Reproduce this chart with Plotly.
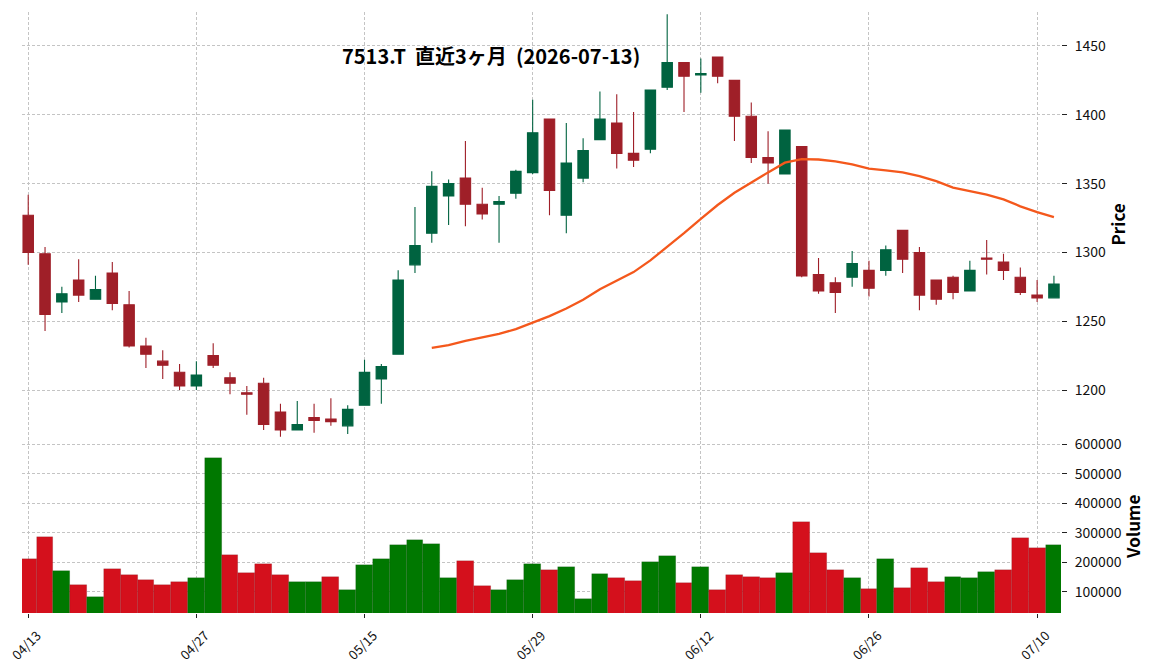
import pandas as pd
import plotly.graph_objects as go

# ---------------- data ----------------
dates = ["04/13", "04/14", "04/15", "04/16", "04/17",
         "04/20", "04/21", "04/22", "04/23", "04/24",
         "04/27", "04/28", "04/30", "05/01", "05/07", "05/08",
         "05/11", "05/12", "05/13", "05/14", "05/15",
         "05/18", "05/19", "05/20", "05/21", "05/22",
         "05/25", "05/26", "05/27", "05/28", "05/29",
         "06/01", "06/02", "06/03", "06/04", "06/05",
         "06/08", "06/09", "06/10", "06/11", "06/12",
         "06/15", "06/16", "06/17", "06/18", "06/19",
         "06/22", "06/23", "06/24", "06/25", "06/26",
         "06/29", "06/30", "07/01", "07/02", "07/03",
         "07/06", "07/07", "07/08", "07/09", "07/10",
         "07/13"]

opens = [1327, 1299, 1264, 1280, 1266, 1285, 1262, 1232, 1221, 1213,
         1203, 1225, 1209, 1198, 1205, 1184, 1171, 1180, 1179, 1174,
         1189, 1208, 1226, 1291, 1314, 1341, 1354, 1335, 1335, 1343,
         1358, 1397, 1327, 1354, 1382, 1394, 1372, 1375, 1420, 1438,
         1429, 1442, 1425, 1399, 1369, 1357, 1377, 1284, 1278, 1282,
         1287, 1287, 1316, 1300, 1280, 1282, 1272, 1296, 1293, 1282,
         1269, 1267]
highs = [1342, 1304, 1275, 1295, 1283, 1293, 1272, 1238, 1229, 1219,
         1221, 1234, 1213, 1203, 1209, 1190, 1192, 1190, 1194, 1189,
         1222, 1219, 1287, 1333, 1359, 1353, 1381, 1347, 1341, 1360,
         1411, 1397, 1394, 1383, 1417, 1415, 1402, 1418, 1473, 1438,
         1441, 1442, 1425, 1409, 1388, 1389, 1377, 1296, 1282, 1301,
         1294, 1305, 1316, 1304, 1280, 1283, 1294, 1309, 1299, 1289,
         1280, 1283]
lows = [1291, 1243, 1256, 1264, 1266, 1258, 1231, 1216, 1208, 1200,
        1200, 1216, 1197, 1182, 1171, 1166, 1171, 1169, 1174, 1168,
        1189, 1190, 1226, 1285, 1307, 1320, 1319, 1324, 1307, 1339,
        1357, 1327, 1314, 1351, 1382, 1361, 1362, 1372, 1418, 1402,
        1416, 1423, 1381, 1365, 1350, 1357, 1282, 1270, 1256, 1275,
        1268, 1283, 1285, 1258, 1262, 1266, 1272, 1284, 1280, 1269,
        1264, 1267]
closes = [1300, 1255, 1270, 1269, 1273, 1263, 1232, 1226, 1218, 1203,
          1211, 1218, 1205, 1197, 1175, 1171, 1175, 1178, 1177, 1186,
          1213, 1217, 1280, 1305, 1348, 1350, 1335, 1328, 1337, 1359,
          1387, 1345, 1365, 1374, 1397, 1372, 1367, 1418, 1438, 1428,
          1430, 1428, 1399, 1369, 1365, 1389, 1283, 1272, 1271, 1292,
          1274, 1302, 1295, 1269, 1266, 1271, 1287, 1295, 1287, 1271,
          1267, 1277]
volumes = [211000, 285500, 170100, 122600, 81900, 176900, 156600, 139600, 122600, 132800,
           146400, 553600, 224400, 163400, 193900, 156600, 132800, 132800, 149800, 105700,
           190500, 210900, 258400, 275300, 261800, 146400, 204100, 119200, 105700, 139600,
           193900, 173500, 183700, 75100, 160000, 146400, 136200, 200700, 221000, 129400,
           183700, 105700, 156600, 149800, 146400, 163400, 336400, 231200, 173500, 146400,
           109100, 210900, 112400, 180300, 132800, 149800, 146400, 166700, 173500, 282100,
           248200, 258400]

price_ticks = [1200, 1250, 1300, 1350, 1400, 1450]
volume_ticks = [100000, 200000, 300000, 400000, 500000, 600000]
date_tick_labels = dates[::10]
title_text = "<b>7513.T\u00a0\u00a0直近3ヶ月\u00a0\u00a0(2026-07-13)</b>"
MA_WINDOW = 25

# ---------------- styles ----------------
FONT = "Noto Sans CJK JP"
UP_C, DOWN_C = "#006340", "#9f1f28"
VUP_C, VDOWN_C = "#007800", "#d4101c"
MA_C = "#f4581c"
GRID_C = "#c4c4c4"

ma = pd.Series(closes).rolling(MA_WINDOW).mean()
vcolors = [VDOWN_C] + [VUP_C if closes[i] > closes[i - 1] else VDOWN_C
                       for i in range(1, len(closes))]

fig = go.Figure()
fig.add_trace(go.Candlestick(
    x=dates, open=opens, high=highs, low=lows, close=closes,
    increasing=dict(line=dict(color=UP_C, width=1.1), fillcolor=UP_C),
    decreasing=dict(line=dict(color=DOWN_C, width=1.1), fillcolor=DOWN_C),
    whiskerwidth=0, xaxis="x", yaxis="y", showlegend=False))
fig.add_trace(go.Scatter(
    x=dates, y=ma, mode="lines", line=dict(color=MA_C, width=2.3),
    xaxis="x", yaxis="y", showlegend=False))
fig.add_trace(go.Bar(
    x=dates, y=volumes, marker=dict(color=vcolors, line=dict(color="rgba(0,0,0,0.18)", width=0.6)),
    xaxis="x2", yaxis="y2", showlegend=False))

xr = [-0.37, len(dates) - 1 + 0.42]
common_x = dict(type="category", range=xr, showgrid=True, gridcolor=GRID_C, gridwidth=0.8,
                griddash="3px,2px", tickvals=date_tick_labels, ticktext=date_tick_labels,
                showline=False, zeroline=False, automargin=False)
common_y = dict(side="right", showgrid=True, gridcolor=GRID_C, gridwidth=0.8, griddash="3px,2px",
                ticks="outside", ticklen=5, tickwidth=1, tickcolor="#222", showline=False,
                zeroline=False, tickfont=dict(family=FONT, size=14, color="#111"),
                ticklabelstandoff=5, automargin=False)
split = 0.2862

fig.update_layout(
    width=1152, height=670, paper_bgcolor="white", plot_bgcolor="white",
    margin=dict(l=22, r=91, t=12, b=57, autoexpand=False),
    font=dict(family=FONT, size=14, color="#111"),
    bargap=0, boxgap=0.38, boxgroupgap=0,
    xaxis=dict(**common_x, anchor="y", showticklabels=False, ticks="",
               rangeslider=dict(visible=False)),
    xaxis2=dict(**common_x, anchor="y2", showticklabels=True, tickangle=-45,
                ticks="outside", ticklen=4, tickcolor="#222",
                ticklabelshift=9, ticklabelstandoff=5,
                tickfont=dict(family=FONT, size=13, color="#111")),
    yaxis=dict(**common_y, domain=[split, 1], range=[1163, 1474.7], tickvals=price_ticks),
    yaxis2=dict(**common_y, domain=[0, split], range=[27700, 611200], tickvals=volume_ticks,
                tickformat="d"),
    annotations=[
        dict(text=title_text, xref="paper", yref="paper", x=0.4514, y=0.9268,
             xanchor="center", yanchor="middle", showarrow=False,
             font=dict(family=FONT, size=20, color="#000")),
        dict(text="<b>Price</b>", xref="paper", yref="paper", x=1.0547, y=(1 + split) / 2 + 0.003,
             xanchor="center", yanchor="middle", textangle=-90, showarrow=False,
             font=dict(family=FONT, size=17, color="#000")),
        dict(text="<b>Volume</b>", xref="paper", yref="paper", x=1.0692, y=split / 2,
             xanchor="center", yanchor="middle", textangle=-90, showarrow=False,
             font=dict(family=FONT, size=17, color="#000")),
    ],
)

fig.write_html("out.html")
